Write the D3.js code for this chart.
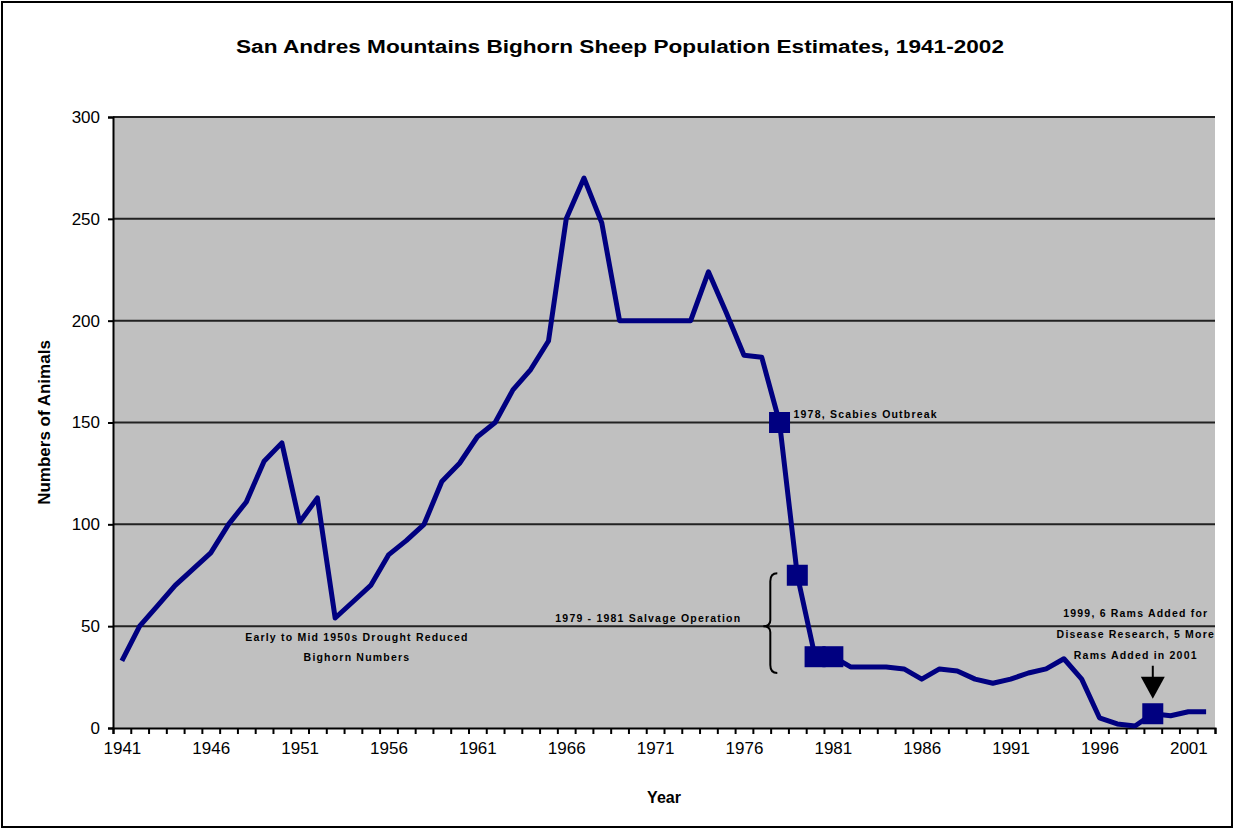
<!DOCTYPE html>
<html>
<head>
<meta charset="utf-8">
<script src="https://cdn.jsdelivr.net/npm/d3@7"></script>
<style>
    body { margin: 0; background: #fff; }
    svg { display: block; font-family: "Liberation Sans", Arial, sans-serif; }
    .note { font-size: 10.5px; font-weight: bold; letter-spacing: 1.2px; }
</style>
</head>
<body>
<svg id="chart" width="1235" height="830"></svg>
<script>
// population estimate per year, 1941-2002
var years = d3.range(1941, 2003);
var population = [
    33, 50, 60, 70, 78, 86, 100, 111, 131, 140,
    101, 113, 54, 62, 70, 85, 92, 100, 121, 130,
    143, 150, 166, 176, 190, 250, 270, 248, 200, 200,
    200, 200, 200, 224, 204, 183, 182, 150, 75, 35,
    35, 30, 30, 30, 29, 24, 29, 28, 24, 22,
    24, 27, 29, 34, 24, 5, 2, 1, 7, 6,
    8, 8
];
var markerYears = [1978, 1979, 1980, 1981, 1999];
var yTicks = [0, 50, 100, 150, 200, 250, 300];
var xLabelYears = [1941, 1946, 1951, 1956, 1961, 1966, 1971, 1976, 1981, 1986, 1991, 1996, 2001];

var title = "San Andres Mountains Bighorn Sheep Population Estimates, 1941-2002";
var droughtNote = ["Early to Mid 1950s Drought Reduced", "Bighorn Numbers"];
var scabiesNote = ["1978, Scabies Outbreak"];
var salvageNote = ["1979 - 1981 Salvage Operation"];
var ramsNote = ["1999, 6 Rams Added for", "Disease Research, 5 More", "Rams Added in 2001"];

var data = years.map((y, i) => ({year: y, value: population[i]}));
var valueOf = yr => population[years.indexOf(yr)];

var plotLeft = 113, plotRight = 1215, plotTop = 117, plotBottom = 728;

var svg = d3.select("#chart");

// outer border
svg.append("rect")
    .attr("x", 2).attr("y", 2)
    .attr("width", 1230).attr("height", 825)
    .attr("fill", "#fff")
    .attr("stroke", "#000")
    .attr("stroke-width", 2);

var x = d3.scaleLinear().domain([1940.5, 2002.5]).range([plotLeft, plotRight]);
var y = d3.scaleLinear().domain([0, 300]).range([plotBottom, plotTop]);

// plot area
svg.append("rect")
    .attr("x", plotLeft).attr("y", plotTop)
    .attr("width", plotRight - plotLeft).attr("height", plotBottom - plotTop)
    .attr("fill", "#c0c0c0");

// gridlines
svg.append("g")
    .selectAll("line")
    .data(yTicks.filter(d => d > 0))
    .join("line")
    .attr("x1", plotLeft).attr("x2", plotRight)
    .attr("y1", d => y(d)).attr("y2", d => y(d))
    .attr("stroke", "#222")
    .attr("stroke-width", 2);

// y axis
var yAxis = svg.append("g")
    .attr("transform", `translate(${plotLeft},0)`)
    .call(d3.axisLeft(y).tickValues(yTicks).tickSize(5).tickPadding(8));
yAxis.select(".domain").attr("stroke", "#000").attr("stroke-width", 2);
yAxis.selectAll(".tick line").attr("stroke", "#000").attr("stroke-width", 2);
yAxis.selectAll("text")
    .attr("font-family", "'Liberation Sans', Arial, sans-serif")
    .attr("font-size", 17)
    .attr("fill", "#000");

// x axis: ticks between categories
var xTicks = svg.append("g")
    .attr("transform", `translate(0,${plotBottom})`)
    .call(d3.axisBottom(x).tickValues(d3.range(1940.5, 2003.5, 1)).tickSize(6).tickFormat(""));
xTicks.select(".domain").attr("stroke", "#000").attr("stroke-width", 2);
xTicks.selectAll(".tick line").attr("stroke", "#000").attr("stroke-width", 2);

var xLabels = svg.append("g")
    .attr("transform", `translate(0,${plotBottom})`)
    .call(d3.axisBottom(x).tickValues(xLabelYears).tickSize(0).tickPadding(14).tickFormat(d3.format("d")));
xLabels.select(".domain").remove();
xLabels.selectAll("text")
    .attr("font-family", "'Liberation Sans', Arial, sans-serif")
    .attr("font-size", 17)
    .attr("fill", "#000");

// population line
var line = d3.line()
    .x(d => x(d.year))
    .y(d => y(d.value));

svg.append("path")
    .datum(data)
    .attr("d", line)
    .attr("fill", "none")
    .attr("stroke", "#000080")
    .attr("stroke-width", 5)
    .attr("stroke-linejoin", "round");

var ms = 21;
svg.append("g")
    .selectAll("rect")
    .data(data.filter(d => markerYears.includes(d.year)))
    .join("rect")
    .attr("x", d => x(d.year) - ms / 2)
    .attr("y", d => y(d.value) - ms / 2)
    .attr("width", ms).attr("height", ms)
    .attr("fill", "#000080");

// titles
svg.append("text")
    .attr("x", 620).attr("y", 53)
    .attr("text-anchor", "middle")
    .attr("font-size", 18)
    .attr("font-weight", "bold")
    .attr("textLength", 768)
    .attr("lengthAdjust", "spacingAndGlyphs")
    .text(title);

svg.append("text")
    .attr("x", (plotLeft + plotRight) / 2).attr("y", 803)
    .attr("text-anchor", "middle")
    .attr("font-size", 16)
    .attr("font-weight", "bold")
    .text("Year");

svg.append("text")
    .attr("transform", `translate(50,${(plotTop + plotBottom) / 2}) rotate(-90)`)
    .attr("text-anchor", "middle")
    .attr("font-size", 17)
    .attr("font-weight", "bold")
    .text("Numbers of Animals");

// annotations
function noteBlock(lines, cx, cy, anchor, gap) {
    svg.append("text")
        .attr("class", "note")
        .attr("text-anchor", anchor)
        .selectAll("tspan")
        .data(lines)
        .join("tspan")
        .attr("x", cx)
        .attr("y", (d, i) => cy + i * gap)
        .text(d => d);
}

noteBlock(droughtNote, x(1954) + 4, y(50) + 15, "middle", 20);
noteBlock(scabiesNote, x(1978) + 14, y(150) - 5, "start", 20);
noteBlock(salvageNote, x(1979) - 56, y(50) - 4, "end", 20);
noteBlock(ramsNote, x(1999) - 17, y(50) - 9, "middle", 21);

// brace for salvage operation
var bx = x(1979) - 27;
var bTop = y(76), bMid = y(50), bBot = y(27);
svg.append("path")
    .attr("d", `M${bx + 7},${bTop} Q${bx},${bTop} ${bx},${bTop + 8} L${bx},${bMid - 6} Q${bx},${bMid} ${bx - 7},${bMid} Q${bx},${bMid} ${bx},${bMid + 6} L${bx},${bBot - 8} Q${bx},${bBot} ${bx + 7},${bBot}`)
    .attr("fill", "none")
    .attr("stroke", "#000")
    .attr("stroke-width", 2);

// arrow toward the 1999 point
var ax = x(1999);
var tip = y(valueOf(1999)) - 15;
svg.append("line")
    .attr("x1", ax).attr("x2", ax)
    .attr("y1", tip - 33).attr("y2", tip - 18)
    .attr("stroke", "#000")
    .attr("stroke-width", 2);
svg.append("path")
    .attr("d", `M${ax - 12},${tip - 22} L${ax + 12},${tip - 22} L${ax},${tip} Z`)
    .attr("fill", "#000");
</script>
</body>
</html>
